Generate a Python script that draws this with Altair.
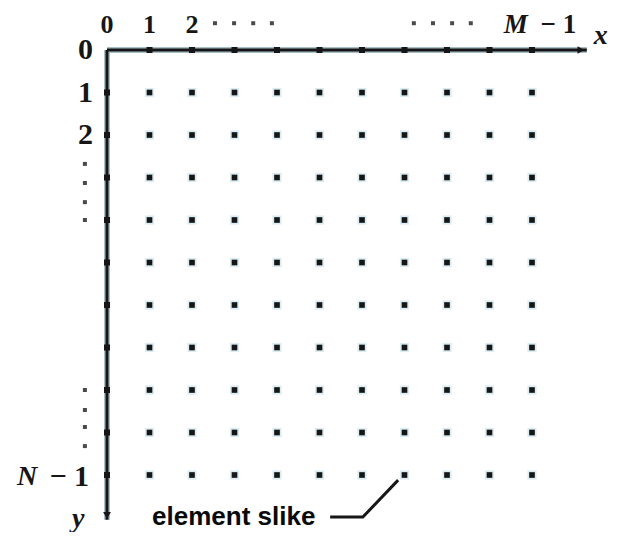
import altair as alt
import pandas as pd

# ---- data (grid indices in column / row units) ----
grid_cols = [1, 2, 3, 4, 5, 6, 7, 8, 9, 10]
grid_rows = [1, 2, 3, 4, 5, 6, 7, 8, 9, 10]
x_axis_ticks = [1, 2, 3, 4, 5, 6, 7, 8, 9, 10]
y_axis_ticks = [1, 2, 3, 4, 5, 6, 7, 8, 9, 10]

top_labels = ["0", "1", "2"]
top_label_cols = [0, 1, 2]
left_labels = ["0", "1", "2"]
left_label_rows = [0, 1, 2]

top_ellipsis_cols = [2.54, 2.99, 3.44, 3.88, 7.22, 7.67, 8.12, 8.56]
left_ellipsis_rows = [2.68, 3.13, 3.58, 4.0, 8.0, 8.47, 8.87, 9.32]

annot_text = "element slike"
leader_cols = [5.25, 6.02, 6.85]
leader_rows = [10.99, 10.99, 10.12]

# ---- layout: mapping of data units to pixels ----
W, H = 602, 524
ORIGIN_X, ORIGIN_Y, STEP = 107, 50, 42.5
x_dom = [(8 - ORIGIN_X) / STEP, (8 + W - ORIGIN_X) / STEP]
y_dom = [(8 - ORIGIN_Y) / STEP, (8 + H - ORIGIN_Y) / STEP]
xs = alt.Scale(domain=x_dom, nice=False, zero=False)
ys = alt.Scale(domain=y_dom, nice=False, zero=False, reverse=True)


def X(f="c"):
    return alt.X(f"{f}:Q", scale=xs, axis=None)


def Y(f="r"):
    return alt.Y(f"{f}:Q", scale=ys, axis=None)


INK = "#161616"
HALO = "#dcecf3"

grid = pd.DataFrame([(c, r) for r in grid_rows for c in grid_cols], columns=["c", "r"])
dots_halo = alt.Chart(grid).mark_square(size=85, color=HALO, opacity=1).encode(x=X(), y=Y())
dots = alt.Chart(grid).mark_square(size=32, color=INK, opacity=1).encode(x=X(), y=Y())

# axes
axes_df = pd.DataFrame({"c": [0, 0], "r": [0, 0], "c2": [11.29, 0], "r2": [0, 11.05]})
axes_halo = alt.Chart(axes_df).mark_rule(strokeWidth=6, color="#a9bec7").encode(
    x=X(), y=Y(), x2="c2:Q", y2="r2:Q")
axes = alt.Chart(axes_df).mark_rule(strokeWidth=3, color=INK).encode(
    x=X(), y=Y(), x2="c2:Q", y2="r2:Q")

ticks_df = pd.DataFrame(
    [(c, 0) for c in x_axis_ticks] + [(0, r) for r in y_axis_ticks], columns=["c", "r"])
ticks = alt.Chart(ticks_df).mark_square(size=36, color=INK, opacity=1).encode(x=X(), y=Y())

arrow_r = alt.Chart(pd.DataFrame({"c": [11.15], "r": [0]})).mark_point(
    shape="triangle-right", filled=True, size=60, color=INK, opacity=1).encode(x=X(), y=Y())
arrow_d = alt.Chart(pd.DataFrame({"c": [0], "r": [10.95]})).mark_point(
    shape="triangle-down", filled=True, size=60, color=INK, opacity=1).encode(x=X(), y=Y())

# labels
SERIF = "Liberation Serif"
TOP_ROW = -0.6
TOP_SIZE = 26
top_df = pd.DataFrame({"c": top_label_cols, "r": [TOP_ROW] * 3, "t": top_labels})
top_txt = alt.Chart(top_df).mark_text(font=SERIF, fontSize=TOP_SIZE, fontWeight="bold",
                                      baseline="middle", align="center", color=INK).encode(
    x=X(), y=Y(), text="t:N")

left_df = pd.DataFrame({"c": [-0.33] * 3, "r": left_label_rows, "t": left_labels})
left_txt = alt.Chart(left_df).mark_text(font=SERIF, fontSize=30, fontWeight="bold",
                                        baseline="middle", align="right", color=INK).encode(
    x=X(), y=Y(), text="t:N")

ell_df = pd.DataFrame(
    [(c, -0.63) for c in top_ellipsis_cols] + [(-0.52, r) for r in left_ellipsis_rows],
    columns=["c", "r"])
ell = alt.Chart(ell_df).mark_square(size=16, color="#4a4a4a", opacity=1).encode(x=X(), y=Y())

top_ital = alt.Chart(pd.DataFrame({"c": [9.62], "r": [TOP_ROW], "t": ["M"]})).mark_text(
    font=SERIF, fontSize=TOP_SIZE + 1, fontStyle="italic", fontWeight="bold",
    baseline="middle", align="center", color=INK).encode(x=X(), y=Y(), text="t:N")

ital_df = pd.DataFrame({"c": [-1.88, 11.62, -0.68],
                        "r": [10.05, -0.33, 11.04],
                        "t": ["N", "x", "y"]})
ital = alt.Chart(ital_df).mark_text(font=SERIF, fontSize=28, fontStyle="italic", fontWeight="bold",
                                    baseline="middle", align="center", color=INK).encode(
    x=X(), y=Y(), text="t:N")

top_m1 = alt.Chart(pd.DataFrame({"c": [10.62], "r": [TOP_ROW], "t": ["\u2212 1"]})).mark_text(
    font=SERIF, fontSize=TOP_SIZE + 1, fontWeight="bold",
    baseline="middle", align="center", color=INK).encode(x=X(), y=Y(), text="t:N")

m1 = alt.Chart(pd.DataFrame({"c": [-0.89], "r": [10.05], "t": ["\u2212 1"]})).mark_text(
    font=SERIF, fontSize=30, fontWeight="bold",
    baseline="middle", align="center", color=INK).encode(x=X(), y=Y(), text="t:N")

annot = alt.Chart(pd.DataFrame({"c": [1.06], "r": [10.99], "t": [annot_text]})).mark_text(
    font="Liberation Sans", fontSize=26, fontWeight="bold", align="left", baseline="middle",
    color="#0a0a0a").encode(x=X(), y=Y(), text="t:N")

leader_df = pd.DataFrame({"c": leader_cols, "r": leader_rows, "o": [0, 1, 2]})
leader = alt.Chart(leader_df).mark_line(color=INK, strokeWidth=3).encode(
    x=X(), y=Y(), order="o:Q")

chart = alt.layer(
    dots_halo, dots, axes_halo, axes, ticks, arrow_r, arrow_d,
    top_txt, left_txt, ell, top_ital, ital, top_m1, m1, annot, leader
).properties(
    width=W, height=H, padding=0, autosize=alt.AutoSizeParams(type="none")
).configure_view(stroke=None)

chart.save("out.html", embed_options={"renderer": "svg", "actions": False})
